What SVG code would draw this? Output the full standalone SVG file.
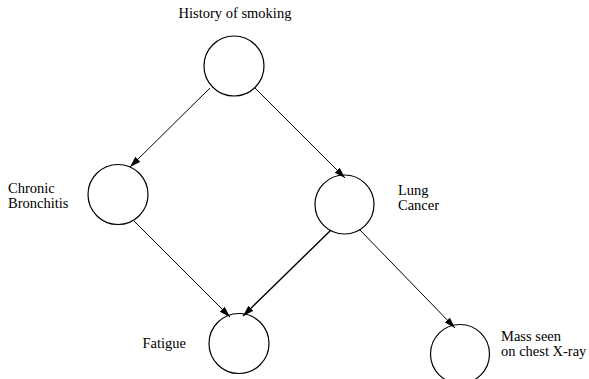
<svg xmlns="http://www.w3.org/2000/svg" width="589" height="379" viewBox="0 0 589 379">
<style>
.node circle{fill:none;stroke:#000;stroke-width:1.2}
text{font-family:"Liberation Serif","Times New Roman",serif;font-size:14.5px;fill:#000}
.edge{stroke:#000;stroke-width:1;fill:none;marker-end:url(#arr)}
</style>
<defs>
<marker id="arr" markerUnits="userSpaceOnUse" markerWidth="12" markerHeight="8" refX="11" refY="3.5" orient="auto">
<path d="M0,0 L11,3.5 L0,7 z" fill="#000"/>
</marker>
</defs>
<rect width="589" height="379" fill="#fff"/>
<g id="connectors">
<line class="edge" x1="210" y1="88" x2="130" y2="167"/>
<line class="edge" x1="255" y1="88" x2="345" y2="178"/>
<line class="edge" x1="134" y1="221" x2="230" y2="317"/>
<line class="edge" x1="331" y1="230" x2="243" y2="316" style="stroke-width:1.4"/>
<line class="edge" x1="359" y1="229" x2="455" y2="328"/>
</g>
<g id="smoking" class="node">
<circle cx="234" cy="66" r="30"/>
<text x="235" y="18" text-anchor="middle">History of smoking</text>
</g>
<g id="bronchitis" class="node">
<circle cx="118" cy="194.5" r="30"/>
<text x="8" y="193">Chronic</text>
<text x="8" y="208">Bronchitis</text>
</g>
<g id="cancer" class="node">
<circle cx="344.5" cy="204.5" r="29.5"/>
<text x="398" y="195">Lung</text>
<text x="398" y="210">Cancer</text>
</g>
<g id="fatigue" class="node">
<circle cx="239" cy="343.5" r="30"/>
<text x="186" y="348" text-anchor="end">Fatigue</text>
</g>
<g id="xray" class="node">
<circle cx="460" cy="354" r="29.5"/>
<text x="501" y="341">Mass seen</text>
<text x="501" y="356">on chest X-ray</text>
</g>
</svg>
